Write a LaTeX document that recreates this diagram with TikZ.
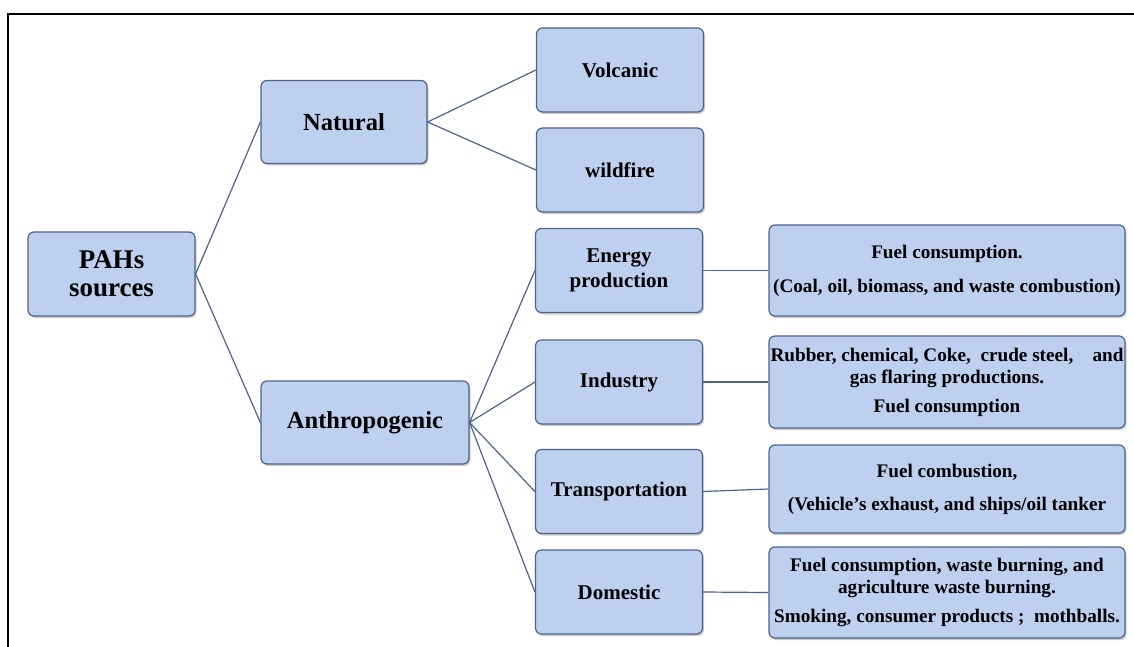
\documentclass[tikz,border=0pt]{standalone}
\usepackage{fontspec}
\setmainfont{Liberation Serif}
\usepackage{tikz}
\usetikzlibrary{shadows}
\definecolor{boxfill}{RGB}{190, 208, 240}
\definecolor{boxedge}{RGB}{80, 98, 136}
\definecolor{linkcol}{RGB}{78, 98, 138}
\tikzstyle{srcbox} = [rectangle, rounded corners=6pt, draw=boxedge, line width=1.2pt, fill=boxfill, align=center, inner sep=1pt, drop shadow={shadow xshift=1.5pt, shadow yshift=-2pt, opacity=0.4}]
\tikzstyle{midbox} = [srcbox, minimum width=167pt, minimum height=84pt, font=\fontsize{21}{25}\selectfont\bfseries]
\tikzstyle{descbox} = [srcbox, minimum width=356pt, minimum height=90pt, font=\fontsize{19.2}{22}\selectfont\bfseries]
\tikzstyle{link} = [linkcol, line width=1.2pt]

\begin{document}
\begin{tikzpicture}[x=1pt, y=-1pt]
    \useasboundingbox (0,0) rectangle (1134,647);
    % Frame
    \draw[line width=1.6pt] (8,647) -- (8,14) -- (1134,14);

    % Root
    \node[srcbox, minimum width=167pt, minimum height=84pt, font=\fontsize{27}{28}\selectfont\bfseries] (pahs) at (111.5, 274) {PAHs\\sources};

    % Main groups
    \node[srcbox, minimum width=166pt, minimum height=83pt, font=\fontsize{24.5}{28}\selectfont\bfseries] (natural) at (344, 122) {Natural};
    \node[srcbox, minimum width=208pt, minimum height=83pt, font=\fontsize{24.5}{28}\selectfont\bfseries] (anthro) at (365, 422.5) {Anthropogenic};

    % Natural sources
    \node[midbox] (volcanic) at (620, 70) {Volcanic};
    \node[midbox] (wildfire) at (620, 170) {wildfire};

    % Anthropogenic sources
    \node[midbox] (energy) at (619, 270.5) {Energy\\production};
    \node[midbox] (industry) at (619, 382) {Industry};
    \node[midbox] (transport) at (619, 491.5) {Transportation};
    \node[midbox] (domestic) at (619, 592) {Domestic};

    % Details
    \node[descbox, minimum height=91pt] (energydesc) at (947, 270.5) {Fuel consumption.\\[12pt]
        (Coal, oil, biomass, and waste combustion)};
    \node[descbox, minimum height=92pt] (industrydesc) at (947, 382) {Rubber, chemical, Coke,~ crude steel, ~~ and\\
        gas flaring productions.\\[7pt]
        Fuel consumption};
    \node[descbox, minimum height=88pt] (transportdesc) at (947, 489) {Fuel combustion,\\[11pt]
        (Vehicle's exhaust, and ships/oil tanker};
    \node[descbox, minimum height=91pt] (domesticdesc) at (947, 592.5) {Fuel consumption, waste burning, and\\
        agriculture waste burning.\\[7pt]
        Smoking, consumer products ;~ mothballs.};

    % Links
    \draw[link] (pahs.east) -- (natural.west);
    \draw[link] (pahs.east) -- (anthro.west);
    \draw[link] (natural.east) -- (volcanic.west);
    \draw[link] (natural.east) -- (wildfire.west);
    \foreach \src in {energy, industry, transport, domestic} {
        \draw[link] (anthro.east) -- (\src.west);
        \draw[link] (\src.east) -- (\src desc.west);
    }
\end{tikzpicture}
\end{document}
